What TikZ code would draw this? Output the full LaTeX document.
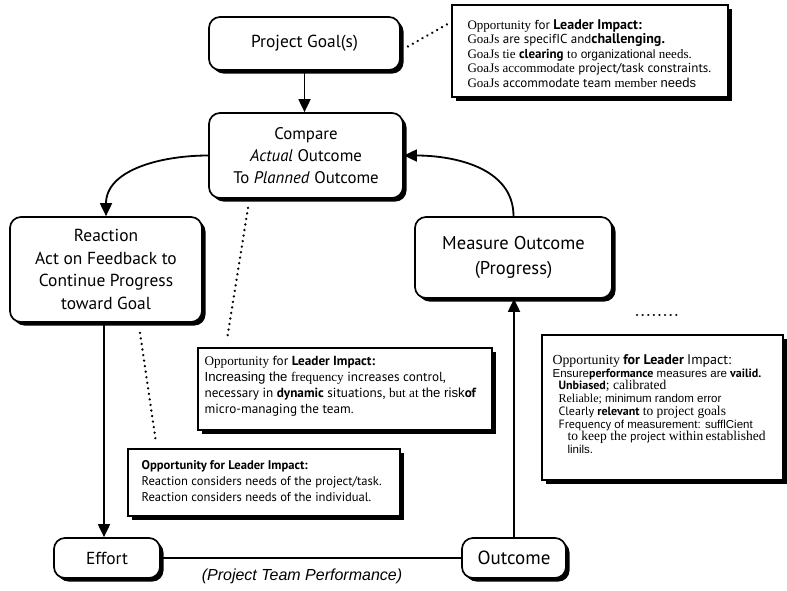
\documentclass[tikz,border=0pt]{standalone}
\usepackage{fontspec}
\setmainfont{PT Sans}
\newfontfamily\tmf{Liberation Serif}
\newfontfamily\arf{Liberation Sans}
\usetikzlibrary{arrows.meta,shadows}

\begin{document}
\begin{tikzpicture}[x=1pt,y=-1pt,
  shd/.style={general shadow={fill=black, shadow xshift=3.5pt, shadow yshift=-3.5pt}},
  stage/.style={draw, line width=1.7pt, rounded corners=11pt, fill=white, shd,
    align=center, inner sep=0pt, font=\fontsize{17.4}{22.5}\selectfont},
  note/.style={draw, line width=1.2pt, fill=white, shd, inner sep=0pt},
  notetext/.style={align=left, inner sep=0pt, anchor=north west},
  flow/.style={line width=1.8pt, -{Triangle[length=13pt,width=12pt]}},
  link/.style={line width=1.8pt},
  hint/.style={line width=2.5pt, dash pattern=on 0.1pt off 5.5pt, line cap=round}]

\path[use as bounding box, fill=white] (0,0) rectangle (787,590);

% process stages
\node[stage, minimum width=191, minimum height=53] (goal) at (304.5,43.5) {Project Goal(s)};
\node[stage, minimum width=194, minimum height=85, font=\fontsize{16.8}{22}\selectfont] (cmp) at (306,155.5)
  {Compare\\\textit{Actual} Outcome\\To \textit{Planned} Outcome};
\node[stage, minimum width=192, minimum height=105] (rct) at (106,269.5)
  {Reaction\\Act on Feedback to\\Continue Progress\\toward Goal};
\node[stage, minimum width=197, minimum height=81, font=\fontsize{18.5}{24.5}\selectfont] (msr) at (513.5,257.5)
  {Measure Outcome\\(Progress)};
\node[stage, minimum width=106, minimum height=40] (eff) at (107,558) {Effort};
\node[stage, minimum width=104, minimum height=40, font=\fontsize{19}{22}\selectfont] (out) at (514,558) {Outcome};

\node[font=\arf\itshape\fontsize{16}{18}\selectfont] (ptp) at (302,576) {(Project Team Performance)};

% leader impact notes
\node[note, minimum width=276, minimum height=92] (op1) at (590,51) {};
\node[notetext, font=\fontsize{13}{14.5}\selectfont] (op1t) at ([shift={(16,15)}]op1.north west)
  {{\tmf Opportunity} for \textbf{\fontsize{14}{14.5}\selectfont Leader Impact:}\\
   {\tmf GoaJs} are specifIC and\textbf{\fontsize{14}{14.5}\selectfont challenging.}\\
   {\tmf GoaJs tie} \textbf{clearing} {\tmf to} {\arf\fontsize{12}{14.5}\selectfont organizational} {\tmf needs.}\\
   {\tmf GoaJs accommodate} project/task constraints.\\
   {\tmf GoaJs} accommodate team {\tmf member} {\arf needs}};

\node[note, minimum width=294, minimum height=82] (op2) at (345,389) {};
\node[notetext, font=\fontsize{13.2}{15.8}\selectfont] (op2t) at ([shift={(7,9)}]op2.north west)
  {{\tmf Opportunity} for \textbf{Leader Impact:}\\
   {\arf Increasing the} {\tmf frequency} increases control,\\
   necessary in \textbf{dynamic} situations, {\tmf but at} {\arf the risk}\textbf{of}\\
   micro-managing the team.};

\node[note, minimum width=272, minimum height=67] (op3) at (264,482.5) {};
\node[notetext, font=\fontsize{12.6}{16}\selectfont] (op3t) at ([shift={(14,12)}]op3.north west)
  {\textbf{Opportunity for Leader Impact:}\\
   Reaction considers needs of the project/task.\\
   Reaction considers needs of the individual.};

\node[note, minimum width=241, minimum height=145] (op4) at (662.5,407.5) {};
\node[notetext, font=\fontsize{12}{12.7}\selectfont] (op4t) at ([shift={(11,20)}]op4.north west)
  {{\tmf\fontsize{13.8}{12.7}\selectfont Opportunity} \textbf{\fontsize{14}{12.7}\selectfont for Leader} {\fontsize{14}{12.7}\selectfont Impact:}\\
   {\arf\fontsize{11.5}{12.7}\selectfont Ensure}\textbf{performance} {\arf\fontsize{11.5}{12.7}\selectfont measures are} \textbf{vailid.}\\
   \hspace*{6pt}\textbf{Unbiased}{\tmf\fontsize{13.5}{12.7}\selectfont ; calibrated}\\
   \hspace*{6pt}{\tmf Reliable;} {\arf\fontsize{11.5}{12.7}\selectfont minimum random error}\\
   \hspace*{6pt}Clearly \textbf{relevant} {\tmf\fontsize{13.5}{12.7}\selectfont to project goals}\\
   \hspace*{6pt}Frequency {\arf\fontsize{11.5}{12.7}\selectfont of measurement: sufflCient}\\
   \hspace*{15pt}{\tmf\fontsize{13.5}{12.7}\selectfont to keep the} project {\tmf\fontsize{13.5}{12.7}\selectfont within\,established}\\
   \hspace*{15pt}{\arf\fontsize{11.5}{12.7}\selectfont linils.}};

% feedback loop
\draw[flow] (goal.south) -- (goal.south |- cmp.north);
\draw[flow] (cmp.west) to[out=180,in=90] (rct.north);
\draw[flow] ([xshift=-2pt]rct.south) -- ([xshift=-2pt]rct.south |- eff.north);
\draw[link] (eff.east) -- (out.west);
\draw[flow] (out.north) -- (out.north |- msr.south);
\draw[flow] (msr.north) to[out=90,in=0] (cmp.east);

% dotted pointers to the notes
\draw[hint] ([shift={(7,3)}]goal.east) -- ([shift={(-2,-28)}]op1.west);
\draw[hint] ([shift={(-58,9)}]cmp.south) -- ([shift={(-118,-8)}]op2.north);
\draw[hint] ([shift={(34,10)}]rct.south) -- ([shift={(-108,-6)}]op3.north);
\coordinate (dA) at (637,315);
\coordinate (dB) at (677,315);
\draw[hint] (dA) -- (dB);
\end{tikzpicture}
\end{document}
